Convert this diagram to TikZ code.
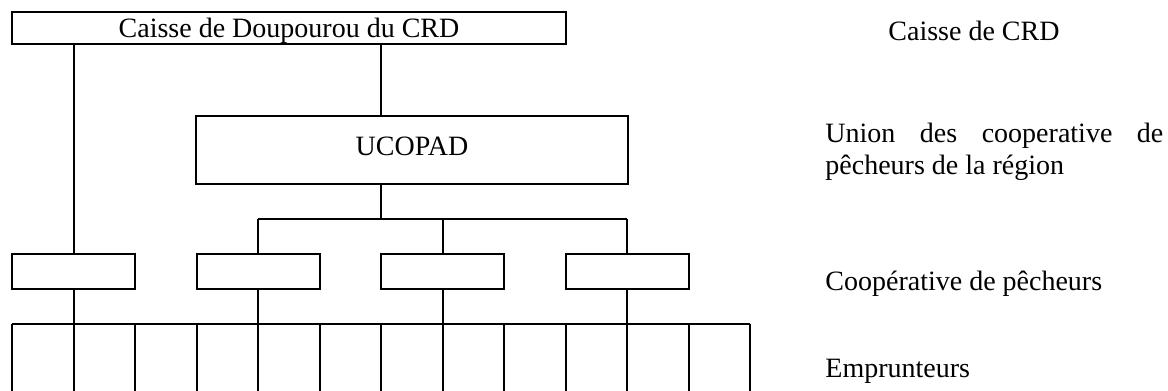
\documentclass[tikz,border=0pt]{standalone}
\usepackage{fontspec}
\setmainfont{Liberation Serif}
\usepackage{tikz}
\usetikzlibrary{positioning,calc}
\tikzset{
  org/.style   = {draw=black, line width=1pt, rectangle, inner sep=0pt,
                  outer sep=0pt, font=\fontsize{14}{16}\selectfont},
  coop/.style  = {org, minimum width=61.5pt, minimum height=17.5pt},
  lvl/.style   = {anchor=base west, inner sep=0pt, align=left,
                  font=\fontsize{14}{16}\selectfont},
  ln/.style    = {line width=1pt},
}
\begin{document}
\begin{tikzpicture}[x=0.5pt, y=-0.5pt]
\useasboundingbox (0,0) rectangle (1168,391);

%% ---- top level -------------------------------------------------------
\node[org, minimum width=277pt, minimum height=16pt,
      text height=10pt, text depth=0pt] (crd) at (289,28)
  {Caisse de Doupourou du CRD};

%% ---- union -----------------------------------------------------------
\node[org, minimum width=216pt, minimum height=34pt,
      text height=5pt, text depth=0pt] (uco) at (412,150)
  {UCOPAD};

%% ---- cooperatives ----------------------------------------------------
\node[coop] (c1) at (73.5,271.5)  {};
\node[coop] (c2) at (258,271.5)   {};
\node[coop] (c3) at (442.5,271.5) {};
\node[coop] (c4) at (627,271.5)   {};

%% ---- helper coordinates ----------------------------------------------
\coordinate (ax)  at (381,0);
\coordinate (bar) at (0,219);
\coordinate (gl)  at (12,324);
\coordinate (gr)  at (750,324);

%% ---- connectors ------------------------------------------------------
\draw[ln] (crd.south -| c1) -- (c1.north);
\draw[ln] (crd.south -| ax) -- (uco.north -| ax);
\draw[ln] (uco.south -| ax) -- (ax |- bar);
\draw[ln] (c2 |- bar) -- (c4 |- bar);
\foreach \c in {c2,c3,c4}
  \draw[ln] (\c |- bar) -- (\c.north);
\foreach \c in {c1,c2,c3,c4}
  \draw[ln] (\c.south) -- (\c.south |- gl);

%% ---- borrowers -------------------------------------------------------
\draw[ln] (gl) -- (gr);
\foreach \i in {0,...,12}
  \draw[ln] ($(gl)+(61.5*\i,0)$) -- ++(0,70);

%% ---- level labels ----------------------------------------------------
\node[lvl] (l1) at (888,40)  {Caisse de CRD};
\node[lvl] (l2) at (825,174)
  {\makebox[169pt][s]{Union des cooperative de}\\p\^echeurs de la r\'egion};
\node[lvl] (l3) at (825,290) {Coop\'erative de p\^echeurs};
\node[lvl] (l4) at (825,377) {Emprunteurs};
\end{tikzpicture}
\end{document}
